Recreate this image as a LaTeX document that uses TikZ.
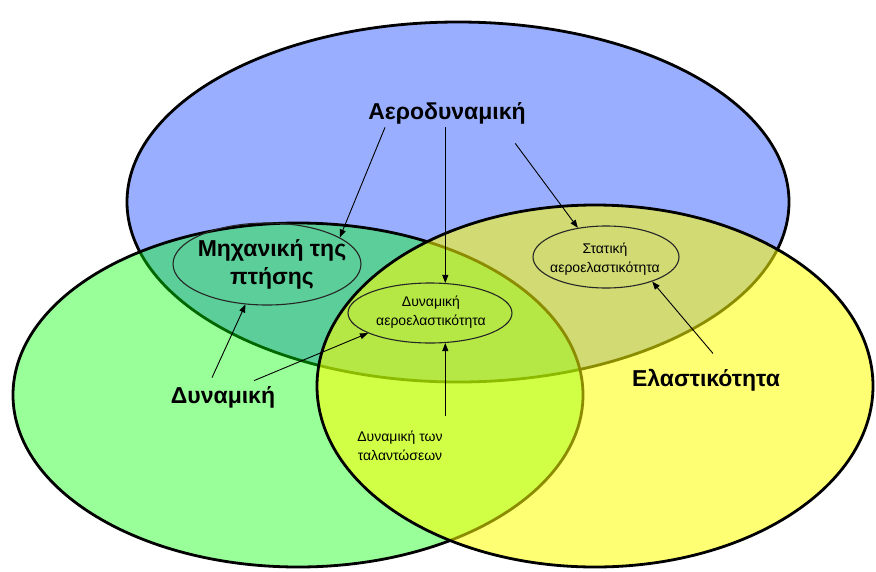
\documentclass[tikz,border=0pt]{standalone}
\usepackage{fontspec}
\setmainfont{Liberation Sans}
\usetikzlibrary{arrows.meta,shapes.geometric}
\usepackage{xcolor}
\definecolor{color99aeff}{HTML}{99AEFF}
\definecolor{color00ff00}{HTML}{00FF00}
\definecolor{colorffff00}{HTML}{FFFF00}

\begin{document}
\begin{tikzpicture}
    [x=1pt, y=-1pt,
     >={Triangle[length=8pt,width=6pt]},  % Uniform arrow style
     field/.style={draw=black, line width=2.8pt},
     topic/.style={font=\bfseries\fontsize{23}{28}\selectfont, align=center},
     subtopic/.style={font=\fontsize{14}{19}\selectfont, align=center},
     ring/.style={ellipse, draw=black!85, line width=1.1pt, inner sep=0pt},
     link/.style={->, line width=0.9pt},
    ]
\useasboundingbox (0,0) rectangle (876,571);

\draw[field, fill=color99aeff] (458,202) ellipse [x radius=331pt, y radius=180pt];
\draw[field, fill=color00ff00, fill opacity=0.4] (298,395) ellipse [x radius=285pt, y radius=172pt];
\draw[field, fill=colorffff00, fill opacity=0.55] (595,386) ellipse [x radius=278pt, y radius=181pt];

\node[ring, minimum width=188pt, minimum height=82pt] (mech) at (267,264) {};
\node[ring, minimum width=164pt, minimum height=60pt] (dynae) at (430,313) {};
\node[ring, minimum width=146pt, minimum height=62pt] (stat) at (606,257) {};

\node[topic] (aero) at (447,113) {Αεροδυναμική};
\node[topic] (mechtxt) at (272,264) {Μηχανική της\\πτήσης};
\node[topic] (dyn) at (223,397) {Δυναμική};
\node[topic] (elast) at (706,380) {Ελαστικότητα};
\node[subtopic] (dynaetxt) at (431,312) {Δυναμική\\αεροελαστικότητα};
\node[subtopic] (stattxt) at (605,259) {Στατική\\αεροελαστικότητα};
\node[subtopic] (osc) at (400,446) {Δυναμική των\\ταλαντώσεων};
\coordinate (osctop) at ([yshift=12pt]osc.north);

\draw[link] ([xshift=-62pt]aero.south) -- (mech.20);
\draw[link] (dynae.63 |- aero.south) -- (dynae.63);
\draw[link] ([xshift=-14pt,yshift=-16pt]aero.south east) -- (stat.134);
\draw[link] ([xshift=7pt,yshift=12pt]elast.north) -- (stat.-28);
\draw[link] ([xshift=-11pt,yshift=5pt]dyn.north) -- (mech.242);
\draw[link] ([xshift=31pt,yshift=2pt]dyn.north) -- (dynae.198);
\draw[link] (osctop -| dynae.-63) -- (dynae.-63);

\end{tikzpicture}
\end{document}
